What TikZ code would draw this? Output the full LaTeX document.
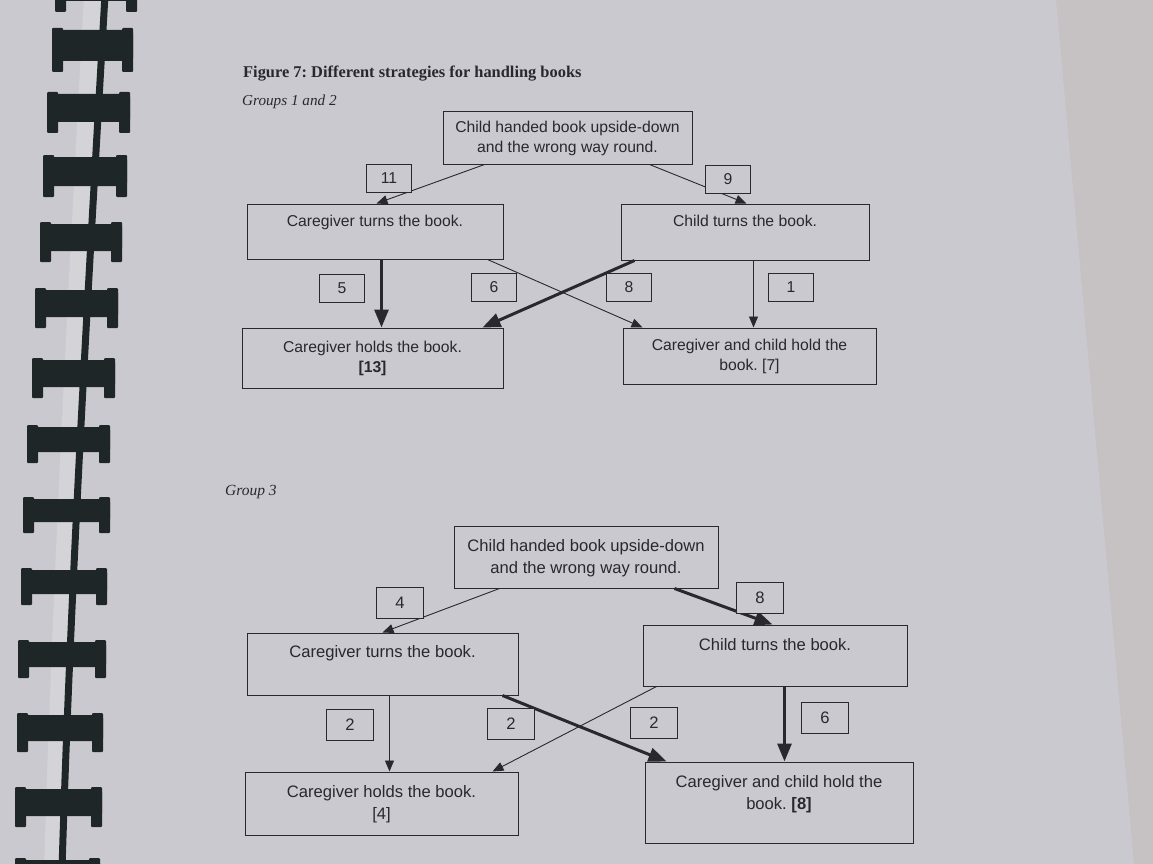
\documentclass[tikz,border=0pt]{standalone}
\usepackage{fontspec}
\setmainfont{Liberation Sans}
\newfontfamily\capfont{Liberation Serif}
\usetikzlibrary{arrows.meta,calc}
\definecolor{paper}{RGB}{203,201,208}
\definecolor{desk}{RGB}{198,193,194}
\definecolor{ink}{RGB}{40,40,46}
\definecolor{ringc}{RGB}{30,38,40}
\frenchspacing
\newcommand{\bt}[4]{\parbox[c][#2pt][t]{#1pt}{\centering\rule{0pt}{#3pt}#4}}
\newcommand{\rng}[4]{%
  \fill[ringc,rounded corners=3pt] (#1,#3+2) rectangle (#2,#4-11);
  \fill[ringc,rounded corners=1pt] (#1,#3) rectangle (#1+11,#4);
  \fill[ringc,rounded corners=1pt] (#2-11,#3) rectangle (#2,#4);}
\tikzset{
  box/.style={draw=ink, line width=1pt, inner sep=0pt, text=ink},
  gone/.style={font=\fontsize{15.7}{20}\selectfont},
  gthree/.style={font=\fontsize{16.6}{22}\selectfont},
  num/.style={draw=ink, fill=paper, line width=1pt, inner sep=0pt,
    minimum width=45pt, minimum height=28pt, text=ink},
  numb/.style={num, minimum width=47pt, minimum height=31pt},
  thinarr/.style={draw=ink, line width=0.9pt, -{Triangle[length=11pt,width=9pt]}},
  thickarr/.style={draw=ink, line width=3pt, -{Triangle[length=18pt,width=14pt]}},
  captext/.style={anchor=base west, text=ink, inner sep=0pt}
}
\begin{document}
\begin{tikzpicture}[x=1pt,y=-1pt]
\useasboundingbox (0,0) rectangle (1153,864);
% photo background
\fill[desk] (0,0) rectangle (1153,864);
\fill[paper] (0,0) -- (1056,0) -- (1134,864) -- (0,864) -- cycle;
% binding
\fill[white!18!paper] (84,-5) .. controls (68,290) and (52,600) .. (44,870) -- (66,870) .. controls (74,600) and (92,290) .. (106,-5) -- cycle;
\draw[ringc, line width=7pt] (105,-5) .. controls (88,290) and (70,600) .. (62,870);
\rng{55}{137}{-14}{12}
\rng{52}{133}{28}{72}
\rng{47}{130}{92}{133}
\rng{43}{127}{155}{197}
\rng{40}{122}{222}{262}
\rng{35}{118}{288}{328}
\rng{32}{115}{358}{398}
\rng{27}{110}{425}{463}
\rng{23}{110}{497}{533}
\rng{21}{107}{568}{605}
\rng{18}{106}{640}{678}
\rng{17}{103}{713}{752}
\rng{15}{102}{787}{827}
\rng{15}{100}{858}{900}

% captions
\node[captext, font=\capfont\bfseries\fontsize{16.4}{18}\selectfont] (title) at (243,78) {Figure 7: Different strategies for handling books};
\node[captext, font=\capfont\itshape\fontsize{15.2}{17}\selectfont] (gA) at (242,106) {Groups 1 and 2};
\node[captext, font=\capfont\itshape\fontsize{15.5}{17}\selectfont] (gB) at (225,495) {Group 3};

% ---------- Groups 1 and 2 ----------
\node[box,gone] (t1) at (567.5,138) {\bt{249}{52}{20}{Child handed book upside-down\\and the wrong way round.}};
\node[box,gone] (l1) at (375,231.5) {\bt{256}{55}{22}{Caregiver turns the book.}};
\node[box,gone] (r1) at (745,232) {\bt{248}{56}{22}{Child turns the book.}};
\node[box,gone] (bl1) at (372.5,358) {\bt{261}{60}{24}{Caregiver holds the book.\\\textbf{[13]}}};
\node[box,gone] (br1) at (749.5,356) {\bt{253}{56}{22}{Caregiver and child hold the\\book. [7]}};

\draw[thinarr] ([xshift=42pt]t1.south west) -- ([xshift=130pt]l1.north west);
\draw[thinarr] ([xshift=207pt]t1.south west) -- ([xshift=126pt]r1.north west);
\draw[thickarr] ([xshift=135pt]l1.south west) -- ([xshift=140pt]bl1.north west);
\draw[thinarr] ([xshift=241pt]l1.south west) -- ([xshift=20pt]br1.north west);
\draw[thickarr] ([xshift=14pt]r1.south west) -- ([xshift=241pt]bl1.north west);
\draw[thinarr] ([xshift=133pt]r1.south west) -- ([xshift=131pt]br1.north west);

\node[num,gone] (a11) at (389,178) {11};
\node[num,gone] (a9) at (728,179) {9};
\node[num,gone] (a5) at (342,288) {5};
\node[num,gone] (a6) at (494,287) {6};
\node[num,gone] (a8) at (629,287) {8};
\node[num,gone] (a1) at (791,287) {1};

% ---------- Group 3 ----------
\node[box,gthree] (t3) at (586,557) {\bt{264}{62}{25}{Child handed book upside-down\\and the wrong way round.}};
\node[box,gthree] (l3) at (382.5,664) {\bt{271}{62}{24}{Caregiver turns the book.}};
\node[box,gthree] (r3) at (775,655.5) {\bt{264}{61}{25}{Child turns the book.}};
\node[box,gthree] (bl3) at (381.5,803.5) {\bt{273}{63}{25}{Caregiver holds the book.\\{}[4]}};
\node[box,gthree] (br3) at (779,802.5) {\bt{268}{81}{25}{Caregiver and child hold the\\book. \textbf{[8]}}};

\draw[thinarr] ([xshift=46pt]t3.south west) -- ([xshift=136pt]l3.north west);
\draw[thickarr] ([xshift=221pt]t3.south west) -- ([xshift=130pt]r3.north west);
\draw[thinarr] ([xshift=143pt]l3.south west) -- ([xshift=145pt]bl3.north west);
\draw[thickarr] ([xshift=256pt]l3.south west) -- ([xshift=22pt]br3.north west);
\draw[thinarr] ([xshift=14pt]r3.south west) -- ([xshift=248pt]bl3.north west);
\draw[thickarr] ([xshift=142pt]r3.south west) -- ([xshift=140pt]br3.north west);

\node[numb,gthree] (b4) at (400,603) {4};
\node[numb,gthree] (b8) at (760,598) {8};
\node[numb,gthree] (b2a) at (350,725) {2};
\node[numb,gthree] (b2b) at (511,724) {2};
\node[numb,gthree] (b2c) at (654,723) {2};
\node[numb,gthree] (b6) at (825,718) {6};
\end{tikzpicture}
\end{document}
